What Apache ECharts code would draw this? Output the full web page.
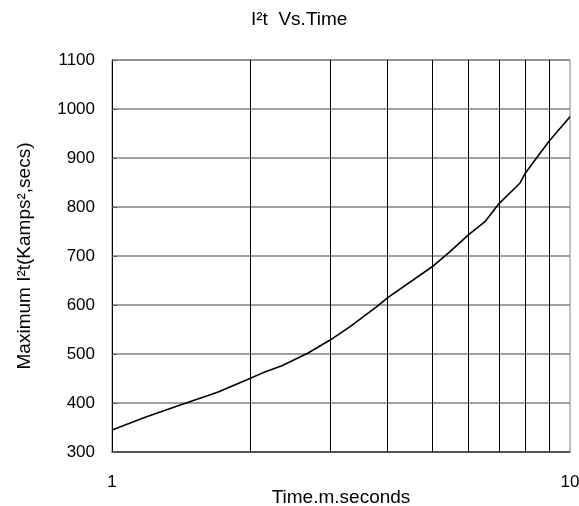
<!DOCTYPE html>
<html>
<head>
<meta charset="utf-8">
<script src="https://cdn.jsdelivr.net/npm/echarts@6/dist/echarts.min.js"></script>
<style>html,body{margin:0;padding:0;background:#fff}#c{width:579px;height:506px}</style>
</head>
<body>
<div id="c"></div>
<script>
var timeMs = [1, 1.19, 1.43, 1.7, 2, 2.14, 2.35, 2.68, 3, 3.31, 3.78, 4, 5, 5.47, 6, 6.52, 7, 7.78, 8, 8.53, 9, 10];
var i2t = [345, 372, 398, 422, 450, 462, 476, 502, 529, 556, 596, 615, 678, 709, 743, 770, 807, 849, 870, 905, 934, 984];
var xGridValues = [2, 3, 4, 5, 6, 7, 8, 9];
var yTicks = [300, 400, 500, 600, 700, 800, 900, 1000, 1100];
var titleText = 'I\u00b2t  Vs.Time';
var xName = 'Time.m.seconds';
var yName = 'Maximum I\u00b2t(Kamps\u00b2,secs)';

var font = 'Liberation Sans, Arial, sans-serif';
var chart = echarts.init(document.getElementById('c'), null, {renderer: 'canvas'});
chart.setOption({
  animation: false,
  backgroundColor: '#fff',
  title: {
    text: titleText,
    left: 246, top: 5,
    textStyle: {fontFamily: font, fontSize: 19, fontWeight: 'normal', color: '#000'}
  },
  grid: {left: 112, right: 9, top: 60, bottom: 54, show: true, borderColor: '#808080', borderWidth: 1,
         containLabel: false, outerBoundsMode: 'none'},
  xAxis: {
    type: 'log', logBase: 10, min: 1, max: 10,
    name: xName, nameLocation: 'middle', nameGap: 36, nameMoveOverlap: false,
    nameTextStyle: {fontFamily: font, fontSize: 19, color: '#000'},
    axisLine: {show: true, lineStyle: {color: '#404040', width: 1.5}},
    axisTick: {show: false},
    splitLine: {show: false},
    minorTick: {show: false},
    minorSplitLine: {show: false},
    axisLabel: {fontFamily: font, fontSize: 17, color: '#000', margin: 22}
  },
  yAxis: {
    type: 'value', min: yTicks[0], max: yTicks[yTicks.length - 1], interval: 100,
    name: yName, nameLocation: 'middle', nameGap: 78, nameMoveOverlap: false,
    nameTextStyle: {fontFamily: font, fontSize: 19, color: '#000'},
    axisLine: {show: true, lineStyle: {color: '#000', width: 1}},
    axisTick: {show: true, inside: true, length: 5, lineStyle: {color: '#606060'}},
    splitLine: {show: true, lineStyle: {color: '#808080', width: 1.5}},
    axisLabel: {fontFamily: font, fontSize: 17, color: '#000', margin: 17,
                formatter: function (v) { return String(v); }}
  },
  series: [{
    type: 'line',
    data: timeMs.map(function (t, i) { return [t, i2t[i]]; }),
    symbol: 'none',
    lineStyle: {color: '#000', width: 1.6},
    z: 5,
    markLine: {
      silent: true,
      symbol: ['none', 'none'],
      label: {show: false},
      lineStyle: {color: '#000', width: 1, type: 'solid'},
      data: xGridValues.map(function (v) { return {xAxis: v}; })
    }
  }]
});
</script>
</body>
</html>
